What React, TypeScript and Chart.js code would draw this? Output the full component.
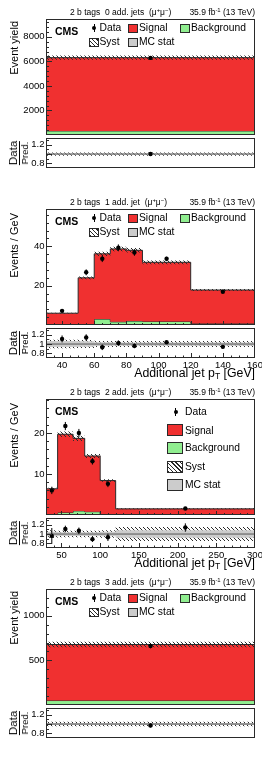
import React, { useEffect, useRef } from 'react';
import { Chart, registerables } from 'chart.js';

Chart.register(...registerables);

// ================= DATA =================
// Panel A: 2 b tags, 0 additional jets (single yield bin)
const aEdges = [0, 1];
const aBackground = [330];
const aSignal = [5970];
const aDataX = [0.5];
const aData = [6280];
const aDataErr = [80];
const aSystRel = [0.028];
const aRatio = [1.0];
const aRatioErr = [0.013];
const aRatioStat = [0.012];
const aRatioSyst = [0.035];
const aYTicks = [2000, 4000, 6000, 8000];
const aXTicks: number[] = [];

// Panel B: 2 b tags, 1 additional jet (events / GeV vs additional jet pT)
const bEdges = [30, 50, 60, 70, 80, 90, 120, 160];
const bBackground = [0.3, 0.3, 3.0, 1.6, 2.0, 1.8, 0.8];
const bSignal = [5.7, 23.7, 33.2, 37.1, 36.0, 30.1, 17.0];
const bDataX = [40, 55, 65, 75, 85, 105, 140];
const bData = [7.2, 26.8, 33.7, 39.3, 36.9, 33.7, 16.9];
const bDataErr = [0.8, 1.5, 1.7, 1.7, 1.7, 1.0, 0.6];
const bSystRel = [0.03, 0.03, 0.03, 0.03, 0.03, 0.03, 0.03];
const bRatio = [1.11, 1.14, 0.93, 1.02, 0.96, 1.04, 0.94];
const bRatioErr = [0.075, 0.07, 0.06, 0.06, 0.05, 0.03, 0.04];
const bRatioStat = [0.065, 0.06, 0.04, 0.035, 0.035, 0.035, 0.035];
const bRatioSyst = [0.09, 0.085, 0.065, 0.065, 0.065, 0.065, 0.065];
const bYTicks = [20, 40];
const bXTicks = [40, 60, 80, 100, 120, 140, 160];

// Panel C: 2 b tags, 2 additional jets
const cEdges = [30, 45, 65, 80, 100, 120, 300];
const cBackground = [0.1, 0.6, 1.0, 0.8, 0.2, 0.1];
const cSignal = [6.3, 19.1, 17.7, 13.6, 8.2, 1.4];
const cDataX = [37.5, 55, 72.5, 90, 110, 210];
const cData = [6.0, 21.7, 20.0, 13.1, 7.6, 1.6];
const cDataErr = [0.9, 1.0, 1.0, 0.8, 0.8, 0.2];
const cSystRel = [0.035, 0.035, 0.035, 0.035, 0.035, 0.08];
const cRatio = [0.96, 1.11, 1.07, 0.89, 0.93, 1.14];
const cRatioErr = [0.17, 0.07, 0.07, 0.06, 0.08, 0.09];
const cRatioStat = [0.05, 0.04, 0.04, 0.04, 0.05, 0.08];
const cRatioSyst = [0.08, 0.07, 0.07, 0.07, 0.08, 0.15];
const cYTicks = [10, 20];
const cXTicks = [50, 100, 150, 200, 250, 300];

// Panel D: 2 b tags, 3 additional jets (single yield bin)
const dEdges = [0, 1];
const dBackground = [50];
const dSignal = [628];
const dDataX = [0.5];
const dData = [662];
const dDataErr = [26];
const dSystRel = [0.046];
const dRatio = [0.97];
const dRatioErr = [0.04];
const dRatioStat = [0.02];
const dRatioSyst = [0.05];
const dYTicks = [500, 1000];
const dXTicks: number[] = [];

const ratioYTicks = [0.8, 1, 1.2];

// ================= LAYOUT / STYLE =================
const W = 262;
const FRAME_L = 46;
const FRAME_R = 255;
const MAIN_TOP = 19;
const MAIN_H = 116;
const MAIN_PAD_T = 8;
const MAIN_PAD_B = 4;
const MAIN_CANVAS_H = MAIN_PAD_T + MAIN_H + MAIN_PAD_B;
const RATIO_TOP = 138;
const RATIO_H = 30;
const RATIO_PAD_T = 6;
const RATIO_MIN = 0.7;
const RATIO_MAX = 1.345;

const FONT = '"Liberation Sans", Arial, Helvetica, sans-serif';
const RED = '#f03030';
const GREEN = '#90ee90';
const GRAY = '#cccccc';
const LINE = '#2a2a2a';
const CLEAR = 'rgba(0,0,0,0)';

Chart.defaults.font.family = FONT;
Chart.defaults.color = '#000';

const panels = [
  {
    id: 'a', top: 0, jets: '0 add. jets', yTitle: 'Event yield', yTitleTop: 21, legend: 'row',
    yMax: 9450, yMinor: 400, xMinor: 0,
    edges: aEdges, background: aBackground, signal: aSignal, dataX: aDataX, data: aData, dataErr: aDataErr,
    systRel: aSystRel, ratio: aRatio, ratioErr: aRatioErr, ratioStat: aRatioStat, ratioSyst: aRatioSyst,
    yTicks: aYTicks, xTicks: aXTicks,
  },
  {
    id: 'b', top: 190, jets: '1 add. jet', yTitle: 'Events / GeV', yTitleTop: 23, legend: 'row',
    yMax: 59, yMinor: 4, xMinor: 5,
    edges: bEdges, background: bBackground, signal: bSignal, dataX: bDataX, data: bData, dataErr: bDataErr,
    systRel: bSystRel, ratio: bRatio, ratioErr: bRatioErr, ratioStat: bRatioStat, ratioSyst: bRatioSyst,
    yTicks: bYTicks, xTicks: bXTicks,
  },
  {
    id: 'c', top: 380, jets: '2 add. jets', yTitle: 'Events / GeV', yTitleTop: 23, legend: 'column',
    yMax: 28.3, yMinor: 2, xMinor: 10,
    edges: cEdges, background: cBackground, signal: cSignal, dataX: cDataX, data: cData, dataErr: cDataErr,
    systRel: cSystRel, ratio: cRatio, ratioErr: cRatioErr, ratioStat: cRatioStat, ratioSyst: cRatioSyst,
    yTicks: cYTicks, xTicks: cXTicks,
  },
  {
    id: 'd', top: 570, jets: '3 add. jets', yTitle: 'Event yield', yTitleTop: 21, legend: 'row',
    yMax: 1300, yMinor: 100, xMinor: 0,
    edges: dEdges, background: dBackground, signal: dSignal, dataX: dDataX, data: dData, dataErr: dDataErr,
    systRel: dSystRel, ratio: dRatio, ratioErr: dRatioErr, ratioStat: dRatioStat, ratioSyst: dRatioSyst,
    yTicks: dYTicks, xTicks: dXTicks,
  },
];

// ================= HELPERS =================
function stepPts(edges: number[], vals: number[]) {
  const pts = vals.map((v, i) => ({ x: edges[i], y: v }));
  pts.push({ x: edges[edges.length - 1], y: vals[vals.length - 1] });
  return pts;
}

function errPts(xs: number[], ys: number[], es: number[]) {
  const pts: any[] = [];
  xs.forEach((x, i) => {
    pts.push({ x, y: ys[i] - es[i] }, { x, y: ys[i] + es[i] }, { x, y: null });
  });
  return pts;
}

function makeHatch(): CanvasPattern {
  const c = document.createElement('canvas');
  c.width = 4;
  c.height = 4;
  const g = c.getContext('2d')!;
  g.strokeStyle = '#2a2a2a';
  g.lineWidth = 1;
  g.beginPath();
  g.moveTo(-1, -1); g.lineTo(5, 5);
  g.moveTo(-1, 3); g.lineTo(1, 5);
  g.moveTo(3, -1); g.lineTo(5, 1);
  g.stroke();
  return g.createPattern(c, 'repeat')!;
}

function framePlugin(o: any) {
  return {
    id: 'frame',
    afterDatasetsDraw(chart: any) {
      const { ctx, chartArea: a } = chart;
      const xs = chart.scales.x;
      const ys = chart.scales.y;
      const near = (v: number, arr: number[], step: number) => arr.some((m) => Math.abs(m - v) < step * 1e-3);
      ctx.save();
      ctx.strokeStyle = LINE;
      ctx.lineWidth = 1;
      ctx.beginPath();
      if (o.yMinor) {
        const k0 = Math.ceil(ys.min / o.yMinor - 1e-6);
        const k1 = Math.floor(ys.max / o.yMinor + 1e-6);
        for (let k = k0; k <= k1; k++) {
          const v = k * o.yMinor;
          const py = Math.round(ys.getPixelForValue(v)) + 0.5;
          if (py <= a.top + 1 || py >= a.bottom - 1) continue;
          const len = near(v, o.yTicks, o.yMinor) ? o.yMajorLen : o.yMinorLen;
          ctx.moveTo(a.left, py);
          ctx.lineTo(a.left + len, py);
        }
      }
      if (o.xMinor) {
        const k0 = Math.ceil(xs.min / o.xMinor - 1e-6);
        const k1 = Math.floor(xs.max / o.xMinor + 1e-6);
        for (let k = k0; k <= k1; k++) {
          const v = k * o.xMinor;
          const px = Math.round(xs.getPixelForValue(v)) + 0.5;
          if (px <= a.left + 1 || px >= a.right - 1) continue;
          const len = near(v, o.xTicks, o.xMinor) ? o.xMajorLen : o.xMinorLen;
          ctx.moveTo(px, a.bottom);
          ctx.lineTo(px, a.bottom - len);
        }
      }
      ctx.stroke();
      ctx.strokeRect(Math.round(a.left) + 0.5, Math.round(a.top) + 0.5,
        Math.round(a.right - a.left) - 1, Math.round(a.bottom - a.top) - 1);
      ctx.restore();
    },
  };
}

function scalesFor(p: any, yMin: number, yMax: number, yTicks: number[], showX: boolean, xHeight: number) {
  const x: any = {
    type: 'linear',
    min: p.edges[0],
    max: p.edges[p.edges.length - 1],
    grid: { display: false, drawTicks: false },
    border: { display: false },
    ticks: { display: showX, autoSkip: false, maxRotation: 0, minRotation: 0, padding: 2, font: { size: 9.5 }, color: '#000', callback: (v: any) => String(v) },
    afterFit: (s: any) => { s.height = xHeight; s.paddingLeft = 0; s.paddingRight = 0; },
  };
  if (p.xTicks.length) {
    x.afterBuildTicks = (s: any) => { s.ticks = p.xTicks.map((v: number) => ({ value: v })); };
  }
  const y: any = {
    type: 'linear',
    min: yMin,
    max: yMax,
    grid: { display: false, drawTicks: false },
    border: { display: false },
    ticks: { padding: 1.5, font: { size: 9.5 }, color: '#000', callback: (v: any) => String(v) },
    afterBuildTicks: (s: any) => { s.ticks = yTicks.map((v) => ({ value: v })); },
    afterFit: (s: any) => { s.width = FRAME_L; s.paddingTop = 0; s.paddingBottom = 0; },
  };
  return { x, y };
}

function baseOptions(padTop: number) {
  return {
    responsive: false,
    maintainAspectRatio: false,
    animation: false,
    devicePixelRatio: 1,
    events: [],
    layout: { autoPadding: false, padding: { left: 0, right: W - FRAME_R, top: padTop, bottom: 0 } },
    plugins: { legend: { display: false }, tooltip: { enabled: false }, title: { display: false } },
  };
}

function mainConfig(p: any, hatch: CanvasPattern): any {
  const total = p.signal.map((s: number, i: number) => s + p.background[i]);
  const systLo = total.map((t: number, i: number) => t * (1 - p.systRel[i]));
  const systHi = total.map((t: number, i: number) => t * (1 + p.systRel[i]));
  const line = { stepped: true, pointRadius: 0, tension: 0 };
  return {
    type: 'line',
    data: {
      datasets: [
        { ...line, data: stepPts(p.edges, p.background), fill: 'origin', backgroundColor: GREEN, borderColor: LINE, borderWidth: 1, order: 5 },
        { ...line, data: stepPts(p.edges, total), fill: 0, backgroundColor: RED, borderColor: LINE, borderWidth: 1, order: 4 },
        { ...line, data: stepPts(p.edges, systLo), fill: false, borderColor: CLEAR, borderWidth: 1, order: 3 },
        { ...line, data: stepPts(p.edges, systHi), fill: 2, backgroundColor: hatch, borderColor: CLEAR, borderWidth: 1, order: 2 },
        { data: errPts(p.dataX, p.data, p.dataErr), fill: false, borderColor: '#000', borderWidth: 1, pointRadius: 0, order: 1 },
        { data: p.dataX.map((x: number, i: number) => ({ x, y: p.data[i] })), showLine: false, fill: false, pointRadius: 2.2, pointBackgroundColor: '#000', pointBorderWidth: 0, borderColor: '#000', order: 0 },
      ],
    },
    options: {
      ...baseOptions(MAIN_PAD_T),
      scales: scalesFor(p, 0, p.yMax, p.yTicks, false, MAIN_PAD_B),
    },
    plugins: [framePlugin({ yMinor: p.yMinor, yTicks: p.yTicks, yMajorLen: 6, yMinorLen: 3, xMinor: p.xMinor, xTicks: p.xTicks, xMajorLen: 4, xMinorLen: 2 })],
  };
}

function ratioConfig(p: any, hatch: CanvasPattern, xHeight: number): any {
  const line = { stepped: true, pointRadius: 0, tension: 0 };
  const x0 = p.edges[0];
  const x1 = p.edges[p.edges.length - 1];
  return {
    type: 'line',
    data: {
      datasets: [
        { ...line, data: stepPts(p.edges, p.ratioSyst.map((s: number) => 1 - s)), fill: false, borderColor: CLEAR, borderWidth: 1, order: 6 },
        { ...line, data: stepPts(p.edges, p.ratioSyst.map((s: number) => 1 + s)), fill: 0, backgroundColor: hatch, borderColor: CLEAR, borderWidth: 1, order: 5 },
        { ...line, data: stepPts(p.edges, p.ratioStat.map((s: number) => 1 - s)), fill: false, borderColor: CLEAR, borderWidth: 1, order: 4 },
        { ...line, data: stepPts(p.edges, p.ratioStat.map((s: number) => 1 + s)), fill: 2, backgroundColor: GRAY, borderColor: CLEAR, borderWidth: 1, order: 3 },
        { data: [{ x: x0, y: 1 }, { x: x1, y: 1 }], fill: false, borderColor: '#555', borderWidth: 1, pointRadius: 0, order: 2 },
        { data: errPts(p.dataX, p.ratio, p.ratioErr), fill: false, borderColor: '#000', borderWidth: 1, pointRadius: 0, order: 1 },
        { data: p.dataX.map((x: number, i: number) => ({ x, y: p.ratio[i] })), showLine: false, fill: false, pointRadius: 2.2, pointBackgroundColor: '#000', pointBorderWidth: 0, borderColor: '#000', order: 0 },
      ],
    },
    options: {
      ...baseOptions(RATIO_PAD_T),
      scales: scalesFor(p, RATIO_MIN, RATIO_MAX, ratioYTicks, p.xTicks.length > 0, xHeight),
    },
    plugins: [framePlugin({ yMinor: 0.1, yTicks: ratioYTicks, yMajorLen: 6, yMinorLen: 3, xMinor: p.xMinor, xTicks: p.xTicks, xMajorLen: 5, xMinorLen: 2.5 })],
  };
}

// ================= TEXT HELPERS =================
const supStyle: any = { fontSize: '70%', lineHeight: 0, verticalAlign: 'baseline', position: 'relative', top: '-0.5em' };
const subStyle: any = { fontSize: '70%', lineHeight: 0, verticalAlign: 'baseline', position: 'relative', top: '0.3em' };

function Txt({ x, base, size, bold, right, children }: any) {
  const style: any = {
    position: 'absolute',
    top: base - 0.8465 * size,
    fontSize: size,
    lineHeight: `${size}px`,
    fontFamily: FONT,
    fontWeight: bold ? 700 : 400,
    whiteSpace: 'pre',
    color: '#000',
  };
  if (right) style.right = W - x; else style.left = x;
  return <div style={style}>{children}</div>;
}

function Box({ x, y, w, h, bg }: any) {
  return (
    <div style={{ position: 'absolute', left: x, top: y, width: w, height: h, boxSizing: 'border-box', border: `1px solid ${LINE}`, background: bg }} />
  );
}

const HATCH_CSS = 'repeating-linear-gradient(45deg, #2a2a2a 0px, #2a2a2a 1px, #ffffff 1px, #ffffff 3px)';

function DataMark({ x, y, len }: any) {
  return (
    <>
      <div style={{ position: 'absolute', left: x - 0.5, top: y - len / 2, width: 1, height: len, background: '#000' }} />
      <div style={{ position: 'absolute', left: x - 2, top: y - 2, width: 4, height: 4, borderRadius: '50%', background: '#000' }} />
    </>
  );
}

function RowLegend() {
  const fs = 10.3;
  return (
    <>
      <DataMark x={94.3} y={28.2} len={8} />
      <Txt x={99.5} base={31.8} size={fs}>Data</Txt>
      <Box x={128} y={24} w={9.5} h={9} bg={RED} />
      <Txt x={139} base={31.8} size={fs}>Signal</Txt>
      <Box x={180} y={24} w={9.5} h={9} bg={GREEN} />
      <Txt x={191} base={31.8} size={fs}>Background</Txt>
      <Box x={89} y={37.5} w={9.5} h={9} bg={HATCH_CSS} />
      <Txt x={99.5} base={45.3} size={fs}>Syst</Txt>
      <Box x={128} y={37.5} w={9.5} h={9} bg={GRAY} />
      <Txt x={139} base={45.3} size={fs}>MC stat</Txt>
    </>
  );
}

function ColumnLegend() {
  const fs = 10.3;
  return (
    <>
      <DataMark x={175.7} y={32.3} len={8} />
      <Txt x={185} base={36} size={fs}>Data</Txt>
      <Box x={167} y={44} w={15.5} h={12} bg={RED} />
      <Txt x={185} base={54.3} size={fs}>Signal</Txt>
      <Box x={167} y={62} w={15.5} h={12} bg={GREEN} />
      <Txt x={185} base={71.8} size={fs}>Background</Txt>
      <Box x={167} y={80.7} w={15.5} h={12} bg={HATCH_CSS} />
      <Txt x={185} base={90.5} size={fs}>Syst</Txt>
      <Box x={167} y={99} w={15.5} h={12} bg={GRAY} />
      <Txt x={185} base={108.7} size={fs}>MC stat</Txt>
    </>
  );
}

function Panel({ p }: any) {
  const mainRef = useRef<HTMLCanvasElement>(null);
  const ratioRef = useRef<HTMLCanvasElement>(null);
  const hasX = p.xTicks.length > 0;
  const ratioXH = hasX ? 14 : 4;
  const ratioCanvasH = RATIO_PAD_T + RATIO_H + ratioXH;

  useEffect(() => {
    const hatch = makeHatch();
    const m = new Chart(mainRef.current as HTMLCanvasElement, mainConfig(p, hatch));
    const r = new Chart(ratioRef.current as HTMLCanvasElement, ratioConfig(p, hatch, ratioXH));
    return () => {
      m.destroy();
      r.destroy();
    };
  }, [p]);

  return (
    <div style={{ position: 'absolute', left: 0, top: p.top, width: W, height: 190 }}>
      <canvas
        ref={mainRef}
        width={W}
        height={MAIN_CANVAS_H}
        style={{ position: 'absolute', left: 0, top: MAIN_TOP - MAIN_PAD_T, width: W, height: MAIN_CANVAS_H }}
      />
      <canvas
        ref={ratioRef}
        width={W}
        height={ratioCanvasH}
        style={{ position: 'absolute', left: 0, top: RATIO_TOP - RATIO_PAD_T, width: W, height: ratioCanvasH }}
      />

      {/* header */}
      <Txt x={70} base={15.3} size={8.5}>
        {`2 b tags  ${p.jets}  (μ`}<span style={supStyle}>+</span>μ<span style={supStyle}>−</span>)
      </Txt>
      <Txt x={255} base={15.3} size={8.5} right>
        35.9 fb<span style={supStyle}>-1</span> (13 TeV)
      </Txt>

      {/* CMS label */}
      <Txt x={55} base={34.6} size={10.5} bold>CMS</Txt>

      {p.legend === 'row' ? <RowLegend /> : <ColumnLegend />}

      {/* y title (main) */}
      <div
        style={{
          position: 'absolute', left: 15 - 6.6, top: p.yTitleTop, writingMode: 'vertical-rl', transform: 'rotate(180deg)',
          fontSize: 11, lineHeight: '13.2px', fontFamily: FONT, whiteSpace: 'nowrap', color: '#000',
        }}
      >
        {p.yTitle}
      </div>

      {/* ratio y title: Data / Pred. */}
      <div
        style={{
          position: 'absolute', left: 18.5, top: RATIO_TOP + RATIO_H / 2, transform: 'translate(-50%, -50%) rotate(-90deg)',
          fontFamily: FONT, color: '#000', textAlign: 'center', whiteSpace: 'nowrap',
        }}
      >
        <div style={{ fontSize: 11.5, lineHeight: '11px' }}>Data</div>
        <div style={{ fontSize: 9.5, lineHeight: '10px', borderTop: '1px solid #000' }}>Pred.</div>
      </div>

      {/* x title */}
      {hasX ? (
        <Txt x={255} base={187.3} size={12.3} right>
          Additional jet p<span style={subStyle}>T</span> [GeV]
        </Txt>
      ) : null}
    </div>
  );
}

export default function App() {
  return (
    <div style={{ position: 'absolute', left: 0, top: 0, width: W, height: 757, background: '#fff', overflow: 'hidden', fontFamily: FONT }}>
      {panels.map((p) => (
        <Panel key={p.id} p={p} />
      ))}
    </div>
  );
}
